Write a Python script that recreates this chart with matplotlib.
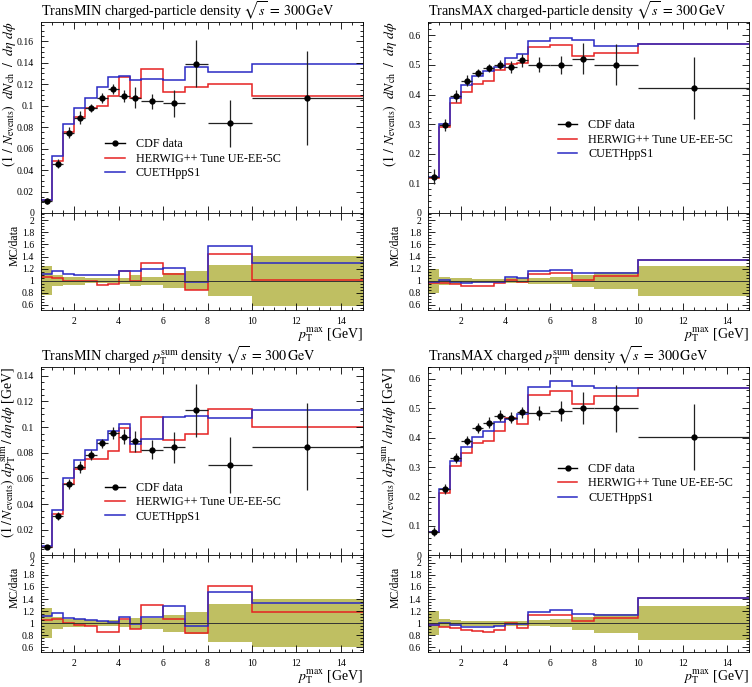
import numpy as np
import matplotlib
matplotlib.use("Agg")
import matplotlib.pyplot as plt
from matplotlib.ticker import MultipleLocator, FuncFormatter
from matplotlib.lines import Line2D

plt.rcParams['font.family'] = ['Liberation Serif', 'DejaVu Serif']
plt.rcParams['mathtext.fontset'] = 'stix'

# bin edges in pT max [GeV]
edges = [0.5, 1, 1.5, 2, 2.5, 3, 3.5, 4, 4.5, 5, 6, 7, 8, 10, 15]

# TransMIN charged-particle density
min_nch_data = [0.011, 0.046, 0.0747, 0.0889, 0.0979, 0.1072, 0.1158, 0.1093, 0.1075, 0.104, 0.1022, 0.1393, 0.0834, 0.1069]
min_nch_err = [0.0026, 0.0042, 0.0052, 0.0062, 0.0039, 0.0043, 0.0046, 0.0055, 0.0097, 0.0073, 0.0125, 0.0216, 0.0215, 0.044]
min_nch_herwig = [0.0117, 0.048, 0.075, 0.089, 0.098, 0.0995, 0.109, 0.127, 0.1075, 0.134, 0.113, 0.117, 0.120, 0.109]
min_nch_cueth = [0.0122, 0.0535, 0.0825, 0.098, 0.107, 0.117, 0.1265, 0.1275, 0.124, 0.1245, 0.1235, 0.1365, 0.1315, 0.139]

# TransMAX charged-particle density
max_nch_data = [0.123, 0.298, 0.394, 0.447, 0.473, 0.490, 0.501, 0.494, 0.515, 0.501, 0.500, 0.521, 0.501, 0.422]
max_nch_err = [0.0246, 0.021, 0.0197, 0.0179, 0.0142, 0.0147, 0.015, 0.0198, 0.0206, 0.025, 0.03, 0.052, 0.070, 0.105]
max_nch_herwig = [0.118, 0.289, 0.371, 0.410, 0.434, 0.446, 0.484, 0.503, 0.506, 0.560, 0.568, 0.531, 0.541, 0.570]
max_nch_cueth = [0.121, 0.300, 0.389, 0.432, 0.462, 0.480, 0.493, 0.525, 0.538, 0.581, 0.590, 0.584, 0.564, 0.570]

# TransMIN charged pT sum density
min_pt_data = [0.0065, 0.0307, 0.0558, 0.069, 0.0786, 0.0873, 0.0956, 0.0926, 0.089, 0.0824, 0.0842, 0.1131, 0.0703, 0.0847]
min_pt_err = [0.0016, 0.0031, 0.0039, 0.0048, 0.0039, 0.0035, 0.0048, 0.0056, 0.008, 0.0074, 0.0118, 0.0204, 0.0218, 0.0339]
min_pt_herwig = [0.0068, 0.0326, 0.0556, 0.067, 0.0754, 0.0753, 0.0818, 0.0992, 0.0808, 0.1078, 0.0901, 0.0943, 0.1141, 0.1001]
min_pt_cueth = [0.0073, 0.0358, 0.0603, 0.0741, 0.0823, 0.0899, 0.0972, 0.1027, 0.0872, 0.0906, 0.1077, 0.1087, 0.1069, 0.1135]

# TransMAX charged pT sum density
max_pt_data = [0.081, 0.2256, 0.330, 0.390, 0.433, 0.451, 0.474, 0.467, 0.486, 0.483, 0.489, 0.500, 0.500, 0.402]
max_pt_err = [0.0162, 0.0158, 0.0165, 0.0156, 0.0173, 0.018, 0.019, 0.0187, 0.0194, 0.0242, 0.0342, 0.055, 0.08, 0.1126]
max_pt_herwig = [0.078, 0.213, 0.303, 0.348, 0.380, 0.388, 0.421, 0.467, 0.447, 0.545, 0.557, 0.515, 0.540, 0.567]
max_pt_cueth = [0.079, 0.226, 0.320, 0.367, 0.403, 0.421, 0.452, 0.463, 0.479, 0.571, 0.592, 0.574, 0.567, 0.567]

RED = '#e62222'
BLUE = '#2a2ac4'
BAND = '#bfbf62'

nch_label = r'$(1\ /\ N_\mathrm{events})\ \ dN_\mathrm{ch}\ \ /\ \ d\eta\ d\phi$'
pt_label = r'$(1\,/\,N_\mathrm{events})\ dp_\mathrm{T}^\mathrm{sum}\,/\,d\eta\,d\phi$ [GeV]'
xlab = r'$p_\mathrm{T}^\mathrm{max}$ [GeV]'

fmt = FuncFormatter(lambda v, p: '%g' % round(v, 6))


def style_axis(ax):
    ax.tick_params(which='both', direction='in', top=True, right=True, labelsize=7, width=0.6)
    ax.tick_params(which='major', length=5, pad=5)
    ax.tick_params(which='minor', length=2.5)
    for s in ax.spines.values():
        s.set_linewidth(0.6)


def draw_panel(fig, x0, ymain, yratio, w, title, ylabel, ylab_size, data, err, herwig, cueth,
               ymax, ymajor, yminor, leg_xy, lab_x):
    e = np.array(edges)
    c = 0.5 * (e[1:] + e[:-1])
    hw = 0.5 * (e[1:] - e[:-1])
    data = np.array(data)
    err = np.array(err)
    wpx = w * 752

    ax = fig.add_axes([x0, ymain[0], w, ymain[1]])
    rx = fig.add_axes([x0, yratio[0], w, yratio[1]], sharex=ax)

    ax.stairs(herwig, e, baseline=None, color=RED, lw=1.1)
    ax.stairs(cueth, e, baseline=None, color=BLUE, lw=1.1)
    ax.errorbar(c, data, yerr=err, xerr=hw, fmt='o', ms=3.5, color='black',
                ecolor='#222222', elinewidth=0.9, capsize=0, zorder=5)
    ax.set_xlim(0.5, 15)
    ax.set_ylim(0, ymax)
    ax.yaxis.set_major_locator(MultipleLocator(ymajor))
    ax.yaxis.set_minor_locator(MultipleLocator(yminor))
    ax.yaxis.set_major_formatter(fmt)
    ax.xaxis.set_major_locator(MultipleLocator(2))
    ax.xaxis.set_minor_locator(MultipleLocator(0.5))
    style_axis(ax)
    ax.tick_params(labelbottom=False)
    ax.set_title(title, loc='left', fontsize=10.2, pad=3)
    ax.set_ylabel(ylabel, loc='top', fontsize=ylab_size)
    ax.yaxis.set_label_coords(-lab_x / wpx, 1)

    handles = [Line2D([], [], color='black', marker='o', ms=3.5, lw=1.0),
               Line2D([], [], color=RED, lw=1.1),
               Line2D([], [], color=BLUE, lw=1.1)]
    labels = ['CDF data', 'HERWIG++ Tune UE-EE-5C', 'CUETHppS1']
    ax.legend(handles, labels, loc='upper left', bbox_to_anchor=leg_xy, frameon=False,
              fontsize=8.7, handlelength=1.6, handletextpad=0.9, labelspacing=0.2,
              borderpad=0, borderaxespad=0)

    # ratio panel
    rel = err / data
    rx.fill_between(e, np.append(1 - rel, 1 - rel[-1]), np.append(1 + rel, 1 + rel[-1]),
                    step='post', color=BAND, lw=0)
    rx.axhline(1, color='#333333', lw=0.7)
    rx.stairs(np.array(herwig) / data, e, baseline=None, color=RED, lw=1.1)
    rx.stairs(np.array(cueth) / data, e, baseline=None, color=BLUE, lw=1.1)
    rx.set_ylim(0.52, 2.12)
    rx.yaxis.set_major_locator(MultipleLocator(0.2))
    rx.yaxis.set_minor_locator(MultipleLocator(0.05))
    rx.yaxis.set_major_formatter(fmt)
    rx.xaxis.set_major_formatter(fmt)
    style_axis(rx)
    rx.set_ylabel('MC/data', loc='top', fontsize=8.5)
    rx.yaxis.set_label_coords(-(lab_x - 3) / wpx, 0.88)
    rx.set_xlabel(xlab, loc='right', fontsize=10, labelpad=0)


fig = plt.figure(figsize=(7.52, 6.87), dpi=100)

lw_ = 322 / 752
rw_ = 321 / 752
top_main = (0.690, 0.278)
top_ratio = (0.549, 0.141)
bot_main = (0.1915, 0.2745)
bot_ratio = (0.0505, 0.141)

# lab_x: distance in pixels from the axis to the right edge of the y label
draw_panel(fig, 41 / 752, top_main, top_ratio, lw_,
           r'TransMIN charged-particle density $\sqrt{s}\,=\,300\,\mathrm{GeV}$',
           nch_label, 10, min_nch_data, min_nch_err, min_nch_herwig, min_nch_cueth,
           0.178, 0.02, 0.005, (0.2, 0.39), 23)
draw_panel(fig, 428 / 752, top_main, top_ratio, rw_,
           r'TransMAX charged-particle density $\sqrt{s}\,=\,300\,\mathrm{GeV}$',
           nch_label, 10, max_nch_data, max_nch_err, max_nch_herwig, max_nch_cueth,
           0.645, 0.1, 0.02, (0.405, 0.49), 29)
draw_panel(fig, 41 / 752, bot_main, bot_ratio, lw_,
           r'TransMIN charged $p_\mathrm{T}^\mathrm{sum}$ density $\sqrt{s}\,=\,300\,\mathrm{GeV}$',
           pt_label, 10, min_pt_data, min_pt_err, min_pt_herwig, min_pt_cueth,
           0.147, 0.02, 0.005, (0.2, 0.39), 23)
draw_panel(fig, 428 / 752, bot_main, bot_ratio, rw_,
           r'TransMAX charged $p_\mathrm{T}^\mathrm{sum}$ density $\sqrt{s}\,=\,300\,\mathrm{GeV}$',
           pt_label, 10, max_pt_data, max_pt_err, max_pt_herwig, max_pt_cueth,
           0.64, 0.1, 0.02, (0.405, 0.49), 29)

fig.savefig('out.png', dpi=100)
